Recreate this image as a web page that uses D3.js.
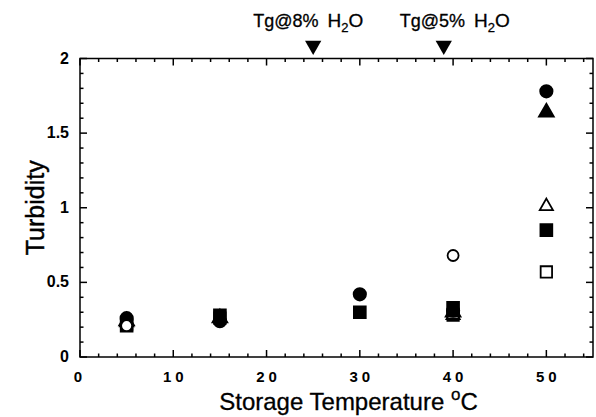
<!DOCTYPE html>
<html>
<head>
<meta charset="utf-8">
<script src="https://cdn.jsdelivr.net/npm/d3@7"></script>
<style>
  body { margin: 0; background: #fff; }
  text { font-family: "Liberation Sans", Arial, sans-serif; fill: #000; }
</style>
</head>
<body>
<div id="chart"></div>
<script>
// data
var temps = [5, 15, 30, 40, 50];
var filledCircle   = [0.26, 0.24, 0.42, 0.31, 1.78];
var filledTriangle = [0.24, 0.26, null, 0.30, 1.64];
var filledSquare   = [0.21, 0.28, 0.30, 0.33, 0.85];
var openCircle     = [0.21, null, null, 0.68, null];
var openTriangle   = [0.23, 0.26, null, 0.28, 1.01];
var openSquare     = [0.22, 0.26, null, 0.28, 0.57];
var xTicks = [0, 10, 20, 30, 40, 50];
var yTicks = [0, 0.5, 1, 1.5, 2];
var markerTemps = [25, 39];
var markerLabels = ["Tg@8%", "Tg@5%"];

var width = 596, height = 417;
var margin = {left: 80, right: 3, top: 58.5, bottom: 60};

var svg = d3.select("#chart").append("svg")
  .attr("width", width)
  .attr("height", height);

var x = d3.scaleLinear().domain([0, 55]).range([margin.left, width - margin.right]);
var y = d3.scaleLinear().domain([0, 2]).range([height - margin.bottom, margin.top]);

var x0 = x.range()[0], x1 = x.range()[1], y0 = y.range()[0], y1 = y.range()[1];

// frame
svg.append("rect")
  .attr("x", x0).attr("y", y1)
  .attr("width", x1 - x0).attr("height", y0 - y1)
  .attr("fill", "none").attr("stroke", "#000").attr("stroke-width", 1.5);

// ticks (inward) on all four sides
var xMinor = d3.range(0, 55.01, 2).filter(function(d) { return d % 10 !== 0; });
var yMinor = d3.range(0, 2.001, 0.1).map(function(d) { return +d.toFixed(1); })
  .filter(function(d) { return Math.abs(d * 2 - Math.round(d * 2)) > 1e-6; });

function tickLines(g, vals, len, horiz) {
  vals.forEach(function(v) {
    if (horiz) {
      g.append("line").attr("x1", x(v)).attr("x2", x(v)).attr("y1", y0).attr("y2", y0 - len);
      g.append("line").attr("x1", x(v)).attr("x2", x(v)).attr("y1", y1).attr("y2", y1 + len);
    } else {
      g.append("line").attr("y1", y(v)).attr("y2", y(v)).attr("x1", x0).attr("x2", x0 + len);
      g.append("line").attr("y1", y(v)).attr("y2", y(v)).attr("x1", x1).attr("x2", x1 - len);
    }
  });
}
var ticks = svg.append("g").attr("stroke", "#000").attr("stroke-width", 1.5);
tickLines(ticks, xTicks, 7, true);
tickLines(ticks, xMinor, 3.5, true);
tickLines(ticks, yTicks, 7, false);
tickLines(ticks, yMinor, 3.5, false);

// tick labels
svg.append("g").selectAll("text")
  .data(xTicks).enter().append("text")
  .attr("x", function(d) { return x(d); })
  .attr("y", y0 + 25)
  .attr("text-anchor", "middle")
  .style("font-size", "15px")
  .style("font-weight", "bold")
  .style("letter-spacing", "4px")
  .text(function(d) { return String(d); })
  .attr("dx", function(d) { return d === 0 ? 0 : 2; });

svg.append("g").selectAll("text")
  .data(yTicks).enter().append("text")
  .attr("x", x0 - 11)
  .attr("y", function(d) { return y(d) + 5; })
  .attr("text-anchor", "end")
  .style("font-size", "16px")
  .style("font-weight", "bold")
  .text(function(d) { return String(d); });

// axis titles
svg.append("text")
  .attr("transform", "translate(44," + ((y0 + y1) / 2) + ") rotate(-90)")
  .attr("text-anchor", "middle")
  .style("font-size", "25px")
  .style("stroke", "#000").style("stroke-width", "0.4px")
  .text("Turbidity");

var xt = svg.append("text")
  .attr("x", (x0 + x1) / 2 + 12)
  .attr("y", 410)
  .attr("text-anchor", "middle")
  .style("font-size", "24px")
  .style("stroke", "#000").style("stroke-width", "0.3px");
xt.append("tspan").text("Storage Temperature ");
xt.append("tspan").attr("dy", -10).style("font-size", "17px").text("o");
xt.append("tspan").attr("dy", 10).text("C");

// Tg markers above the plot
var tri = d3.symbol().type(d3.symbolTriangle).size(115);
svg.append("g").selectAll("path")
  .data(markerTemps).enter().append("path")
  .attr("d", tri)
  .attr("transform", function(d) { return "translate(" + x(d) + "," + (y1 - 13) + ") rotate(180)"; })
  .attr("fill", "#000");

var offs = [-60, -44];
markerTemps.forEach(function(t, i) {
  var lab = svg.append("text")
    .attr("x", x(t) + offs[i])
    .attr("y", 27)
    .style("font-size", "19px")
    .style("stroke", "#000").style("stroke-width", "0.3px");
  lab.append("tspan").text(markerLabels[i]).style("font-size", "18px");
  lab.append("tspan").text("H").attr("dx", 9);
  lab.append("tspan").attr("dy", 5).style("font-size", "13px").text("2");
  lab.append("tspan").attr("dy", -5).text("O");
});

// data markers
var series = [
  {vals: openSquare, type: d3.symbolSquare, size: 130, fill: "#fff"},
  {vals: openTriangle, type: d3.symbolTriangle, size: 75, fill: "#fff"},
  {vals: filledTriangle, type: d3.symbolTriangle, size: 95, fill: "#000"},
  {vals: filledSquare, type: d3.symbolSquare, size: 140, fill: "#000"},
  {vals: filledCircle, type: d3.symbolCircle, size: 120, fill: "#000"},
  {vals: openCircle, type: d3.symbolCircle, size: 95, fill: "#fff"}
];
series.forEach(function(s) {
  var pts = temps.map(function(t, i) { return {t: t, v: s.vals[i]}; })
    .filter(function(d) { return d.v !== null; });
  svg.append("g").selectAll("path")
    .data(pts).enter().append("path")
    .attr("d", d3.symbol().type(s.type).size(s.size))
    .attr("transform", function(d) { return "translate(" + x(d.t) + "," + y(d.v) + ")"; })
    .attr("fill", s.fill)
    .attr("stroke", "#000")
    .attr("stroke-width", 1.8);
});
</script>
</body>
</html>
